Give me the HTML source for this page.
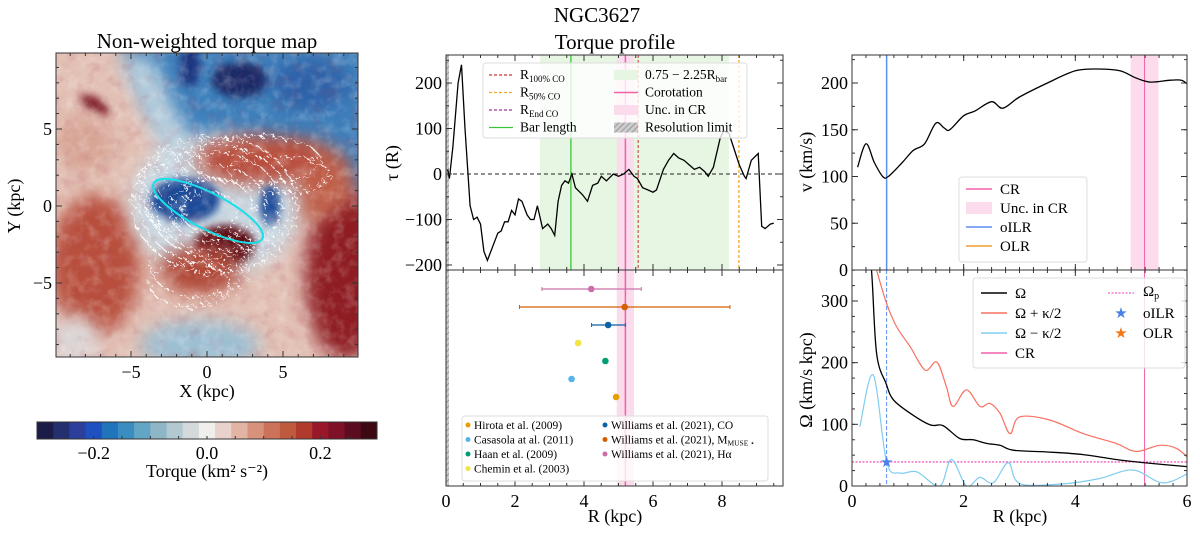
<!DOCTYPE html>
<html><head><meta charset="utf-8"><style>
html,body{margin:0;padding:0;background:#fff;}
svg{display:block;font-family:"Liberation Serif","DejaVu Serif",serif;}
</style></head><body>
<svg id="fig" width="1200" height="536" viewBox="0 0 1200 536" xmlns="http://www.w3.org/2000/svg">
<defs>
<filter id="blur8" x="-50%" y="-50%" width="200%" height="200%"><feGaussianBlur stdDeviation="9"/></filter>
<filter id="blur4" x="-50%" y="-50%" width="200%" height="200%"><feGaussianBlur stdDeviation="4"/></filter>
<filter id="noisy" x="-20%" y="-20%" width="140%" height="140%"><feTurbulence type="fractalNoise" baseFrequency="0.18" numOctaves="2" seed="3" result="n"/><feDisplacementMap in="SourceGraphic" in2="n" scale="16"/></filter>
<filter id="grain" x="0" y="0" width="100%" height="100%"><feTurbulence type="fractalNoise" baseFrequency="0.09" numOctaves="3" seed="7"/><feColorMatrix type="matrix" values="0 0 0 0 1  0 0 0 0 1  0 0 0 0 1  0 0 0 1.4 -0.6"/></filter>
<filter id="grainDark" x="0" y="0" width="100%" height="100%"><feTurbulence type="fractalNoise" baseFrequency="0.08" numOctaves="3" seed="11"/><feColorMatrix type="matrix" values="0 0 0 0 0.4  0 0 0 0 0.05  0 0 0 0 0.1  0 0 0 1.4 -0.7"/></filter>
<clipPath id="mapclip"><rect x="56" y="53" width="302" height="304"/></clipPath>
<pattern id="hatch" width="4" height="4" patternUnits="userSpaceOnUse" patternTransform="rotate(45)"><rect width="4" height="4" fill="#ccc"/><line x1="0" y1="0" x2="0" y2="4" stroke="#888" stroke-width="1.5"/></pattern>
</defs>

<g clip-path="url(#mapclip)">
  <rect x="56" y="53" width="302" height="304" fill="#e2c0b4"/>
  <polygon points="120,40 370,40 370,200 300,170 240,150 190,160 150,110" fill="#3d7fbb" filter="url(#blur8)"/>
  <ellipse cx="240" cy="80" rx="28" ry="18" fill="#1a2a68" filter="url(#blur4)"/>
  <ellipse cx="190" cy="65" rx="10" ry="22" fill="#1d3580" filter="url(#blur4)"/>
  <ellipse cx="310" cy="85" rx="40" ry="25" fill="#2d62a8" filter="url(#blur8)"/>
  <polygon points="120,60 150,55 200,160 170,170" fill="#b8d0de" filter="url(#blur8)"/>
  <ellipse cx="95" cy="105" rx="16" ry="7" transform="rotate(30 95 105)" fill="#7a1820" filter="url(#blur4)"/>
  <ellipse cx="85" cy="145" rx="30" ry="30" fill="#d8a696" filter="url(#blur8)"/>
  <ellipse cx="95" cy="265" rx="45" ry="70" fill="#b8503e" filter="url(#blur8)"/>
  <ellipse cx="345" cy="275" rx="40" ry="85" fill="#8e1c22" filter="url(#blur8)"/>
  <ellipse cx="305" cy="180" rx="50" ry="40" fill="#c0604a" filter="url(#blur8)"/>
  <ellipse cx="200" cy="345" rx="60" ry="25" fill="#9dbfd2" filter="url(#blur8)"/>
  <ellipse cx="75" cy="340" rx="25" ry="25" fill="#dcd6d6" filter="url(#blur8)"/>
  <ellipse cx="215" cy="205" rx="85" ry="72" fill="#c9d8e2" filter="url(#blur8)"/>
  <ellipse cx="255" cy="160" rx="60" ry="25" fill="#b8503e" filter="url(#blur8)"/>
  <ellipse cx="185" cy="200" rx="35" ry="22" fill="#1f4b98" filter="url(#blur4)"/>
  <ellipse cx="270" cy="205" rx="10" ry="20" fill="#1f4b98" filter="url(#blur4)"/>
  <ellipse cx="225" cy="245" rx="30" ry="20" fill="#5a0c14" filter="url(#blur4)"/>
  <ellipse cx="200" cy="270" rx="40" ry="25" fill="#b04838" filter="url(#blur8)"/>
  <rect x="56" y="53" width="302" height="304" filter="url(#grain)" opacity="0.35"/>
  <rect x="56" y="53" width="302" height="304" filter="url(#grainDark)" opacity="0.3"/>
  <g fill="none" stroke="#fff" stroke-width="1.2" filter="url(#noisy)" opacity="0.95">
    <ellipse cx="215" cy="205" rx="82" ry="68" stroke-dasharray="7 2"/>
    <ellipse cx="215" cy="205" rx="75" ry="60" stroke-dasharray="4 3"/>
    <ellipse cx="215" cy="205" rx="66" ry="52" stroke-dasharray="5 2"/>
    <ellipse cx="212" cy="208" rx="55" ry="43" stroke-dasharray="3 3"/>
    <ellipse cx="212" cy="210" rx="42" ry="32" stroke-dasharray="4 2"/>
    <ellipse cx="210" cy="212" rx="28" ry="20" stroke-dasharray="3 2"/>
    <ellipse cx="200" cy="265" rx="50" ry="32" stroke-dasharray="3 3"/>
    <ellipse cx="190" cy="285" rx="40" ry="22" stroke-dasharray="4 3"/>
    <ellipse cx="255" cy="160" rx="65" ry="24" stroke-dasharray="5 2"/>
    <ellipse cx="280" cy="175" rx="50" ry="18" stroke-dasharray="4 3"/>
    <ellipse cx="165" cy="190" rx="22" ry="40" stroke-dasharray="3 2"/>
  </g>
  <ellipse cx="208" cy="211" rx="61" ry="18" transform="rotate(27 208 211)" fill="none" stroke="#18e0e8" stroke-width="2"/>
</g>
<g id="mapaxes"></g>
<text x="207" y="48" font-size="21" text-anchor="middle">Non-weighted torque map</text>
<text x="207" y="397" font-size="18" text-anchor="middle">X (kpc)</text>
<text transform="translate(20 206) rotate(-90)" font-size="18" text-anchor="middle">Y (kpc)</text>
<g id="cbar"></g>
<text x="207" y="477" font-size="18" text-anchor="middle">Torque (km² s⁻²)</text>

<text x="597" y="22" font-size="21" text-anchor="middle">NGC3627</text>
<text x="615" y="49" font-size="21" text-anchor="middle">Torque profile</text>
<g id="mid"></g>
<text transform="translate(398 163) rotate(-90)" font-size="18" text-anchor="middle">τ (R)</text>
<text x="615" y="522" font-size="18" text-anchor="middle">R (kpc)</text>

<g id="right"></g>
<text transform="translate(812 162) rotate(-90)" font-size="18" text-anchor="middle">v (km/s)</text>
<text transform="translate(812 380) rotate(-90)" font-size="18" text-anchor="middle">Ω (km/s kpc)</text>
<text x="1020" y="522" font-size="18" text-anchor="middle">R (kpc)</text>
</svg>
<script>
const torqueR = [0.05,0.1,0.2,0.35,0.45,0.55,0.7,0.8,0.9,1.0,1.1,1.2,1.35,1.5,1.6,1.7,1.8,1.9,2.0,2.1,2.2,2.35,2.45,2.55,2.65,2.8,2.95,3.05,3.15,3.25,3.35,3.45,3.55,3.65,3.75,3.95,4.1,4.25,4.4,4.5,4.65,4.85,5.0,5.15,5.3,5.45,5.55,5.7,5.85,6.0,6.1,6.3,6.45,6.6,6.75,6.9,7.05,7.2,7.35,7.5,7.6,7.75,7.95,8.05,8.2,8.35,8.5,8.65,8.7,8.85,9.05,9.15,9.25,9.4,9.5];
const torqueVal = [10,-10,60,200,240,100,-70,-100,-95,-110,-170,-190,-160,-130,-125,-105,-105,-80,-90,-55,-60,-90,-100,-100,-70,-120,-110,-120,-135,-60,-25,-15,-20,0,-30,-45,-60,-25,-20,-5,-15,0,-5,0,10,-5,-10,-30,-35,-40,-35,10,30,45,35,30,20,10,15,5,-5,15,80,95,90,55,20,-5,-10,30,45,-115,-120,-110,-108];
const crR = 5.2, crLo = 4.95, crHi = 5.45;
const barBandLo = 2.72, barBandHi = 8.2, barLength = 3.62;
const r100 = 5.57, r50 = 8.49;
const litR = [4.21,5.18,4.70,3.83,4.62,3.64,4.93];
const litLo = [2.78,2.13,4.22,null,null,null,null];
const litHi = [5.66,8.23,5.20,null,null,null,null];
const litColors = ["#cc6fa8","#d55e00","#0a62a8","#f0e442","#009e73","#56b4e9","#e69f00"];
const vR = [0.1,0.25,0.4,0.55,0.65,0.9,1.1,1.3,1.5,1.65,1.75,2.0,2.2,2.5,2.7,3.0,3.5,4.0,4.4,4.8,5.1,5.35,5.7,5.9,6.0];
const vVal = [110,135,115,100,100,115,128,135,157,152,150,165,170,180,173,185,200,213,215,213,205,201,203,203,199];
const oilrR = 0.62;
const omR = [0.25,0.35,0.44,0.61,0.74,1.04,1.40,1.63,1.93,2.17,2.41,2.65,2.89,3.54,4.14,4.73,5.21,6.05];
const omVal = [420,350,215,166,140,118,99,98,77,75,69,66,58,55,51,43,38,31];
const opR = [0.44,0.62,0.80,1.04,1.31,1.52,1.69,1.81,2.05,2.29,2.47,2.65,2.83,3.00,3.54,4.14,4.73,5.09,5.51,5.81,6.05];
const opVal = [350,296,258,226,188,201,161,129,156,129,134,118,85,112,107,85,69,56,66,61,43];
const omkR = [0.14,0.38,0.62,0.86,1.16,1.57,1.78,2.05,2.29,2.53,2.80,3.0,3.72,4.43,5.03,5.57,6.05];
const omkVal = [96,180,39,21,23,0,43,0,14,5,38,4,3,12,26,5,22];
const omegaP = 39;
const cbarColors = ["#1c1c48","#232f6e","#2c3f9a","#1d50c0","#1f74bb","#3b8cc0","#63a5c4","#8fb6c6","#b3c9d2","#d4d9dc","#f1efee","#e9d2cb","#e2b4a4","#d8927c","#cd725a","#c05a3e","#b03a2c","#98182a","#7e1028","#5c0c20","#3c0812"];
const cbarTicks = [-0.2,0.0,0.2];
const mapTicks = [-5,0,5];

const NS="http://www.w3.org/2000/svg";
function mk(parent,tag,attrs,name,txt){const e=document.createElementNS(NS,tag);for(const k in attrs)e.setAttribute(k,attrs[k]);


if(txt!==undefined)e.textContent=txt;parent.appendChild(e);return e;}
function lin(d0,d1,p0,p1){return v=>p0+(v-d0)*(p1-p0)/(d1-d0);}
function fmt(v){return (v<0?"−":"")+Math.abs(v);}
const TF=18;
function axes(g,L,T,R,B,xs,ys,xt,yt,xminor,yminor,showXL,showYL){
  mk(g,'rect',{x:L,y:T,width:R-L,height:B-T,fill:'none',stroke:'#333','stroke-width':1},'axes-frame');
  xt.forEach(v=>{const x=xs(v);
    mk(g,'line',{x1:x,x2:x,y1:B,y2:B-6,stroke:'#333'},'x-major-tick');
    mk(g,'line',{x1:x,x2:x,y1:T,y2:T+6,stroke:'#333'},'x-major-tick');
    if(showXL) mk(g,'text',{x:x,y:B+21,'font-size':TF,'text-anchor':'middle'},'x-tick-label',fmt(v));});
  xminor.forEach(v=>{const x=xs(v);
    mk(g,'line',{x1:x,x2:x,y1:B,y2:B-3,stroke:'#333'},'x-minor-tick');
    mk(g,'line',{x1:x,x2:x,y1:T,y2:T+3,stroke:'#333'},'x-minor-tick');});
  yt.forEach(v=>{const y=ys(v);
    mk(g,'line',{x1:L,x2:L+6,y1:y,y2:y,stroke:'#333'},'y-major-tick');
    mk(g,'line',{x1:R,x2:R-6,y1:y,y2:y,stroke:'#333'},'y-major-tick');
    if(showYL) mk(g,'text',{x:L-4,y:y+6,'font-size':TF,'text-anchor':'end'},'y-tick-label',fmt(v));});
  yminor.forEach(v=>{const y=ys(v);
    mk(g,'line',{x1:L,x2:L+3,y1:y,y2:y,stroke:'#333'},'y-minor-tick');
    mk(g,'line',{x1:R,x2:R-3,y1:y,y2:y,stroke:'#333'},'y-minor-tick');});
}
function range(a,b,s){const r=[];for(let v=a;v<=b+1e-9;v+=s)r.push(+v.toFixed(4));return r;}
function path(g,xs,ys,X,Y,attrs,name){const d=X.map((x,i)=>(i?'L':'M')+xs(x).toFixed(1)+','+ys(Y[i]).toFixed(1)).join('');return mk(g,'path',Object.assign({d:d,fill:'none'},attrs),name);}
function spath(g,xs,ys,X,Y,attrs,name){
  const P=X.map((x,i)=>[xs(x),ys(Y[i])]);let d='M'+P[0][0].toFixed(1)+','+P[0][1].toFixed(1);
  for(let i=0;i<P.length-1;i++){const p0=P[Math.max(0,i-1)],p1=P[i],p2=P[i+1],p3=P[Math.min(P.length-1,i+2)];
    const c1=[p1[0]+(p2[0]-p0[0])/6,p1[1]+(p2[1]-p0[1])/6],c2=[p2[0]-(p3[0]-p1[0])/6,p2[1]-(p3[1]-p1[1])/6];
    d+='C'+c1.map(v=>v.toFixed(1)).join(',')+' '+c2.map(v=>v.toFixed(1)).join(',')+' '+p2[0].toFixed(1)+','+p2[1].toFixed(1);}
  return mk(g,'path',Object.assign({d:d,fill:'none'},attrs),name);}

(function(){
  const g=document.getElementById('mapaxes');
  const xs=lin(0,5,207,283), ys=lin(0,5,206,129);
  axes(g,56,53,358,357,xs,ys,mapTicks,mapTicks,range(-9,9,1),range(-9,9,1),true,true);
  const cg=document.getElementById('cbar');
  const cx=lin(-0.3,0.3,37,377), n=cbarColors.length, w=(377-37)/n;
  cbarColors.forEach((c,i)=>mk(cg,'rect',{x:37+i*w,y:422,width:w+0.5,height:17,fill:c},'colorbar-bin'));
  mk(cg,'rect',{x:37,y:422,width:340,height:17,fill:'none',stroke:'#333'},'colorbar-frame');
  cbarTicks.forEach(v=>{mk(cg,'text',{x:cx(v),y:459,'font-size':TF,'text-anchor':'middle'},'colorbar-tick-label',(v<0?'−':'')+Math.abs(v).toFixed(1));});
  range(-0.25,0.25,0.05).forEach(v=>mk(cg,'line',{x1:cx(v),x2:cx(v),y1:439,y2:436,stroke:'#333'},'colorbar-tick'));
})();

(function(){
  const g=document.getElementById('mid');
  const L=446,R=783,T=55,M=270,B=486;
  const xs=lin(0,8,446,722);
  const ys=lin(0,200,174,83);
  mk(g,'rect',{x:xs(barBandLo),y:T,width:xs(barBandHi)-xs(barBandLo),height:M-T,fill:'#e6f6e3'},'bar-range-span');
  mk(g,'rect',{x:xs(crLo),y:T,width:xs(crHi)-xs(crLo),height:B-T,fill:'#fbdcec'},'cr-uncertainty-span');
  mk(g,'rect',{x:L,y:T,width:3,height:B-T,fill:'url(#hatch)'},'resolution-limit');
  mk(g,'line',{x1:xs(barLength),x2:xs(barLength),y1:T,y2:M,stroke:'#3cc43c','stroke-width':1.3},'bar-length-line');
  mk(g,'line',{x1:xs(r100),x2:xs(r100),y1:T,y2:M,stroke:'#d03030','stroke-dasharray':'3 2'},'r100-co-line');
  mk(g,'line',{x1:xs(r50),x2:xs(r50),y1:T,y2:M,stroke:'#f5a623','stroke-dasharray':'3 2','stroke-width':1.3},'r50-co-line');
  mk(g,'line',{x1:xs(crR),x2:xs(crR),y1:T,y2:B,stroke:'#f060a8','stroke-width':1.5},'corotation-line');
  mk(g,'line',{x1:L,x2:R,y1:ys(0),y2:ys(0),stroke:'#222','stroke-dasharray':'4 3'},'zero-line');
  path(g,xs,ys,torqueR,torqueVal,{stroke:'#000','stroke-width':1.3},'torque-profile-line');
  axes(g,L,T,R,M,xs,ys,range(0,8,2),[-200,-100,0,100,200],range(0,9.5,0.5),range(-200,250,50),false,true);
  const ysb=lin(0,1,M,B);
  axes(g,L,M,R,B,xs,ysb,range(0,8,2),[],range(0,9.5,0.5),[],true,false);
  const py0=289, dy=18;
  litR.forEach((r,i)=>{const y=py0+i*dy;
    if(litLo[i]!==null){
      mk(g,'line',{x1:xs(litLo[i]),x2:xs(litHi[i]),y1:y,y2:y,stroke:litColors[i],'stroke-width':1.3},'literature-errorbar');
      [litLo[i],litHi[i]].forEach(v=>mk(g,'line',{x1:xs(v),x2:xs(v),y1:y-2,y2:y+2,stroke:litColors[i]},'errorbar-cap'));}
    mk(g,'circle',{cx:xs(r),cy:y,r:3.3,fill:litColors[i]},'literature-point');});
  const lg=mk(g,'g',{},'torque-legend');
  mk(lg,'rect',{x:483,y:63,width:264,height:75,rx:3,fill:'#fff','fill-opacity':0.8,stroke:'#ddd'},'legend-box');
  const fs=13.5;
  const left=[['R','100% CO','#d03030','dash'],['R','50% CO','#f5a623','dash'],['R','End CO','#a030a0','dash'],['Bar length','','#3cc43c','line']];
  left.forEach((e,i)=>{const y=75+i*17.5;
    mk(lg,'line',{x1:489,x2:513,y1:y,y2:y,stroke:e[2],'stroke-dasharray':e[3]=='dash'?'3 2':'none','stroke-width':1.3},'legend-swatch');
    const t=mk(lg,'text',{x:520,y:y+4,'font-size':fs},'legend-label',e[0]);
    if(e[1]){const s=document.createElementNS(NS,'tspan');s.setAttribute('font-size','9');s.setAttribute('dy','3');s.textContent=e[1];t.appendChild(s);}});
  const right=[['0.75 − 2.25R','#e6f6e3','rect'],['Corotation','#f060a8','line'],['Unc. in CR','#fbdcec','rect'],['Resolution limit','url(#hatch)','rect']];
  right.forEach((e,i)=>{const y=75+i*17.5;
    if(e[2]=='rect')mk(lg,'rect',{x:614,y:y-5,width:24,height:10,fill:e[1]},'legend-swatch');
    else mk(lg,'line',{x1:614,x2:638,y1:y,y2:y,stroke:e[1],'stroke-width':1.5},'legend-swatch');
    const t=mk(lg,'text',{x:645,y:y+4,'font-size':fs},'legend-label',e[0]);
    if(i==0){const s=document.createElementNS(NS,'tspan');s.setAttribute('font-size','9');s.setAttribute('dy','3');s.textContent='bar';t.appendChild(s);}});
  const lb=mk(g,'g',{},'literature-legend');
  mk(lb,'rect',{x:462,y:416,width:306,height:65,rx:3,fill:'#fff','fill-opacity':0.8,stroke:'#ddd'},'legend-box');
  const col1=[6,5,4,3], col2=[2,1,0];
  const lab={0:'Williams et al. (2021), Hα',1:'Williams et al. (2021), M',2:'Williams et al. (2021), CO',3:'Chemin et al. (2003)',4:'Haan et al. (2009)',5:'Casasola at al. (2011)',6:'Hirota et al. (2009)'};
  col1.forEach((k,i)=>{const y=425+i*14.5;mk(lb,'circle',{cx:468,cy:y,r:2.5,fill:litColors[k]},'legend-marker');mk(lb,'text',{x:474,y:y+4,'font-size':11.5},'legend-label',lab[k]);});
  col2.forEach((k,i)=>{const y=425+i*14.5;mk(lb,'circle',{cx:605,cy:y,r:2.5,fill:litColors[k]},'legend-marker');const t=mk(lb,'text',{x:611,y:y+4,'font-size':11.5},'legend-label',lab[k]);
    if(k==1){const s=document.createElementNS(NS,'tspan');s.setAttribute('font-size','7.5');s.setAttribute('dy','2');s.textContent='MUSE ⋆';t.appendChild(s);}});
})();

(function(){
  const g=document.getElementById('right');
  const L=852,R=1187,T=55,M=270,B=486;
  const xs=lin(0,6,852,1187);
  const ys=lin(0,200,270,83);
  mk(g,'rect',{x:xs(4.99),y:T,width:xs(5.49)-xs(4.99),height:M-T,fill:'#fcdcec'},'cr-uncertainty-span');
  mk(g,'line',{x1:xs(5.24),x2:xs(5.24),y1:T,y2:B,stroke:'#f060a8','stroke-width':1},'cr-line');
  mk(g,'line',{x1:xs(oilrR),x2:xs(oilrR),y1:T,y2:M,stroke:'#5b8ff0','stroke-width':1.5},'oilr-line');
  spath(g,xs,ys,vR,vVal,{stroke:'#000','stroke-width':1.3},'rotation-curve');
  axes(g,L,T,R,M,xs,ys,range(0,6,2),[0,50,100,150,200],range(0,6,0.25),range(0,225,25),false,true);
  const lg=mk(g,'g',{},'velocity-legend');
  mk(lg,'rect',{x:959,y:177,width:128,height:85,rx:3,fill:'#fff','fill-opacity':0.8,stroke:'#ddd'},'legend-box');
  [['CR','#f060a8','line'],['Unc. in CR','#fcdcec','rect'],['oILR','#5b8ff0','line'],['OLR','#f0a030','line']].forEach((e,i)=>{const y=189+i*19;
    if(e[2]=='rect')mk(lg,'rect',{x:966,y:y-6,width:26,height:12,fill:e[1]},'legend-swatch');
    else mk(lg,'line',{x1:966,x2:992,y1:y,y2:y,stroke:e[1],'stroke-width':1.5},'legend-swatch');
    mk(lg,'text',{x:1000,y:y+5,'font-size':15},'legend-label',e[0]);});
  const yo=lin(0,300,486,301);
  const cp=mk(g,'clipPath',{id:'omclip'},'omega-clip');
  mk(cp,'rect',{x:L,y:M,width:R-L,height:B-M},'clip-rect');
  const go=mk(g,'g',{'clip-path':'url(#omclip)'},'omega-plot');
  mk(go,'line',{x1:xs(oilrR),x2:xs(oilrR),y1:M,y2:B,stroke:'#5b8ff0','stroke-dasharray':'4 2'},'oilr-dashed-line');
  mk(go,'line',{x1:L,x2:R,y1:yo(omegaP),y2:yo(omegaP),stroke:'#f060c0','stroke-dasharray':'2 1.5','stroke-width':1.3},'omega-p-line');
  spath(go,xs,yo,omR,omVal,{stroke:'#000','stroke-width':1.3},'omega-curve');
  spath(go,xs,yo,opR,opVal,{stroke:'#f87060','stroke-width':1.2},'omega-plus-kappa-curve');
  spath(go,xs,yo,omkR,omkVal,{stroke:'#80cdf0','stroke-width':1.2},'omega-minus-kappa-curve');
  mk(go,'text',{x:xs(oilrR),y:yo(omegaP)+5,'font-size':15,'text-anchor':'middle',fill:'#4a80e8'},'oilr-star','★');
  axes(g,L,M,R,B,xs,yo,range(0,6,2),[0,100,200,300],range(0,6,0.25),range(0,350,25),true,true);
  const lb=mk(g,'g',{},'omega-legend');
  mk(lb,'rect',{x:973,y:278,width:212,height:90,rx:3,fill:'#fff','fill-opacity':0.8,stroke:'#ddd'},'legend-box');
  [['Ω','#000'],['Ω + κ/2','#f87060'],['Ω − κ/2','#80cdf0'],['CR','#f060a8']].forEach((e,i)=>{const y=293+i*20;
    mk(lb,'line',{x1:981,x2:1007,y1:y,y2:y,stroke:e[1],'stroke-width':1.4},'legend-swatch');
    mk(lb,'text',{x:1015,y:y+5,'font-size':15},'legend-label',e[0]);});
  mk(lb,'line',{x1:1108,x2:1134,y1:293,y2:293,stroke:'#f060c0','stroke-dasharray':'2 1.5','stroke-width':1.3},'legend-swatch');
  const t=mk(lb,'text',{x:1143,y:296,'font-size':15},'legend-label','Ω');
  const s=document.createElementNS(NS,'tspan');s.setAttribute('font-size','10');s.setAttribute('dy','3');s.textContent='p';t.appendChild(s);
  mk(lb,'text',{x:1121,y:318,'font-size':15,'text-anchor':'middle',fill:'#4a80e8'},'legend-marker','★');
  mk(lb,'text',{x:1143,y:318,'font-size':15},'legend-label','oILR');
  mk(lb,'text',{x:1121,y:338,'font-size':15,'text-anchor':'middle',fill:'#f07818'},'legend-marker','★');
  mk(lb,'text',{x:1143,y:338,'font-size':15},'legend-label','OLR');
})();
</script>
</body></html>
